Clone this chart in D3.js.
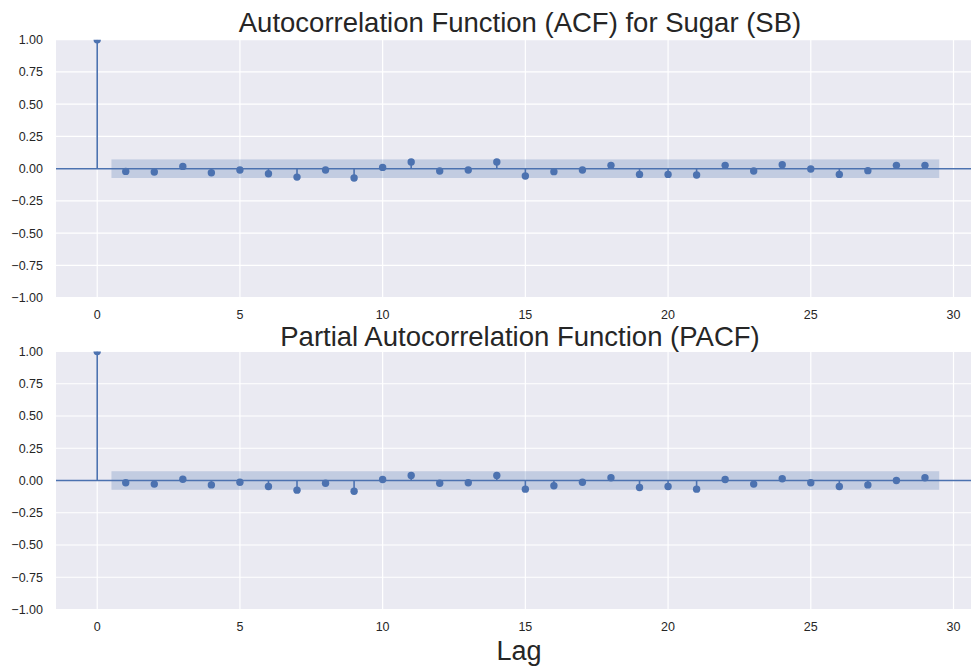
<!DOCTYPE html>
<html>
<head>
<meta charset="utf-8">
<script src="https://cdn.jsdelivr.net/npm/d3@7"></script>
<style>
  body { margin: 0; background: #fff; }
  text { font-family: "Liberation Sans", Arial, sans-serif; fill: #262626; }
</style>
</head>
<body>
<div id="chart"></div>
<script>
var svgWidth = 971;
var svgHeight = 666;

// lags 0..29
var lags = d3.range(0, 30);
var acfValues = [1, -0.021, -0.026, 0.018, -0.031, -0.010, -0.039, -0.065, -0.010, -0.072,
  0.010, 0.052, -0.018, -0.010, 0.052, -0.057, -0.023, -0.010, 0.026, -0.044,
  -0.044, -0.049, 0.026, -0.018, 0.031, -0.002, -0.044, -0.015, 0.026, 0.026];
var pacfValues = [1, -0.018, -0.028, 0.010, -0.034, -0.013, -0.047, -0.075, -0.021, -0.083,
  0.008, 0.039, -0.021, -0.018, 0.039, -0.067, -0.041, -0.013, 0.021, -0.054,
  -0.047, -0.067, 0.008, -0.028, 0.013, -0.018, -0.047, -0.034, 0.000, 0.021];
var confBand = 0.072;
var xTicks = [0, 5, 10, 15, 20, 25, 30];
var yTicks = [-1, -0.75, -0.5, -0.25, 0, 0.25, 0.5, 0.75, 1];

var blue = "#4C72B0";
var plotLeft = 56, plotRight = 971;

var svg = d3.select("#chart")
  .append("svg")
  .attr("width", svgWidth)
  .attr("height", svgHeight);

var xScale = d3.scaleLinear().domain([0, 30]).range([97.2, 953.5]);

function fmt(v) {
  return d3.format(".2f")(v).replace("-", "\u2212");
}

function drawPanel(values, top, bottom, title, titleY, id) {
  var yScale = d3.scaleLinear().domain([-1, 1]).range([bottom, top]);
  var g = svg.append("g");

  g.append("clipPath").attr("id", id)
    .append("rect")
    .attr("x", plotLeft).attr("y", top)
    .attr("width", plotRight - plotLeft).attr("height", bottom - top);

  // background
  g.append("rect")
    .attr("x", plotLeft).attr("y", top)
    .attr("width", plotRight - plotLeft).attr("height", bottom - top)
    .attr("fill", "#EAEAF2");

  // grid
  g.selectAll(".vgrid").data(xTicks).enter().append("line")
    .attr("x1", d => xScale(d)).attr("x2", d => xScale(d))
    .attr("y1", top).attr("y2", bottom)
    .attr("stroke", "#fff").attr("stroke-width", 1.2);
  g.selectAll(".hgrid").data(yTicks).enter().append("line")
    .attr("x1", plotLeft).attr("x2", plotRight)
    .attr("y1", d => yScale(d)).attr("y2", d => yScale(d))
    .attr("stroke", "#fff").attr("stroke-width", 1.2);

  // tick labels
  g.selectAll(".ylab").data(yTicks).enter().append("text")
    .attr("x", 43).attr("y", d => yScale(d))
    .attr("dy", "0.35em")
    .attr("text-anchor", "end")
    .attr("font-size", 12.5)
    .text(d => fmt(d));
  g.selectAll(".xlab").data(xTicks).enter().append("text")
    .attr("x", d => xScale(d)).attr("y", bottom + 17)
    .attr("dy", "0.35em")
    .attr("text-anchor", "middle")
    .attr("font-size", 12.5)
    .text(d => d);

  var inner = g.append("g").attr("clip-path", "url(#" + id + ")");

  // confidence band
  inner.append("rect")
    .attr("x", xScale(0.5)).attr("y", yScale(confBand))
    .attr("width", xScale(29.5) - xScale(0.5))
    .attr("height", yScale(-confBand) - yScale(confBand))
    .attr("fill", blue).attr("fill-opacity", 0.25);

  // zero line
  inner.append("line")
    .attr("x1", plotLeft).attr("x2", plotRight)
    .attr("y1", yScale(0)).attr("y2", yScale(0))
    .attr("stroke", blue).attr("stroke-width", 1.5);

  // stems
  inner.selectAll(".stem").data(lags).enter().append("line")
    .attr("x1", d => xScale(d)).attr("x2", d => xScale(d))
    .attr("y1", yScale(0)).attr("y2", d => yScale(values[d]))
    .attr("stroke", blue).attr("stroke-width", 1.6);

  // markers
  inner.selectAll(".dot").data(lags).enter().append("circle")
    .attr("cx", d => xScale(d)).attr("cy", d => yScale(values[d]))
    .attr("r", 3.7)
    .attr("fill", blue);

  svg.append("text")
    .attr("x", 520).attr("y", titleY)
    .attr("text-anchor", "middle")
    .attr("font-size", 27.5)
    .text(title);
}

drawPanel(acfValues, 39.7, 297.7, "Autocorrelation Function (ACF) for Sugar (SB)", 32, "clipA");
drawPanel(pacfValues, 351.5, 609.5, "Partial Autocorrelation Function (PACF)", 346, "clipB");

svg.append("text")
  .attr("x", 519).attr("y", 660)
  .attr("text-anchor", "middle")
  .attr("font-size", 27)
  .text("Lag");
</script>
</body>
</html>
